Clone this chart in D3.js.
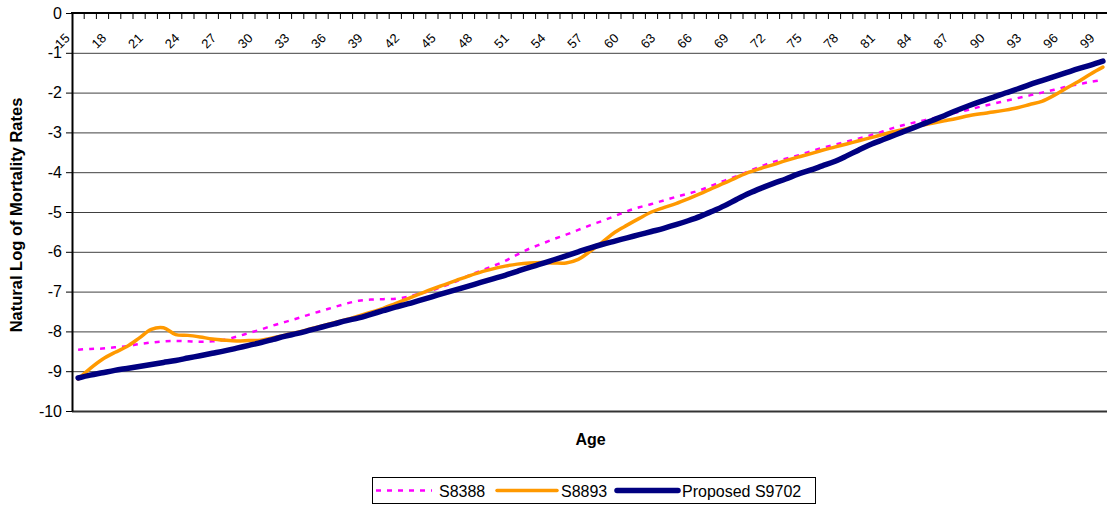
<!DOCTYPE html>
<html>
<head>
<meta charset="utf-8">
<script src="https://cdn.jsdelivr.net/npm/d3@7"></script>
<style>
  body { margin: 0; background: #fff; }
  svg { display: block; font-family: Arial, "Liberation Sans", sans-serif; }
</style>
</head>
<body>
<div class="chart"></div>
<script>
// ages 15..99 (category axis)
var ages = d3.range(15, 100);
var ageLabels = d3.range(15, 100, 3);
var yTicks = d3.range(0, -11, -1);

var s8388 = [-8.46, -8.44, -8.43, -8.40, -8.37, -8.32, -8.28, -8.25, -8.24, -8.25,
  -8.26, -8.25, -8.21, -8.13, -8.04, -7.95, -7.85, -7.76, -7.67, -7.57,
  -7.48, -7.39, -7.30, -7.23, -7.20, -7.19, -7.18, -7.13, -7.05, -6.97,
  -6.86, -6.74, -6.60, -6.48, -6.36, -6.23, -6.07, -5.92, -5.80, -5.68,
  -5.57, -5.45, -5.33, -5.22, -5.10, -4.98, -4.88, -4.80, -4.71, -4.62,
  -4.54, -4.45, -4.33, -4.21, -4.10, -3.97, -3.85, -3.74, -3.66, -3.58,
  -3.48, -3.39, -3.31, -3.23, -3.15, -3.07, -2.97, -2.87, -2.79, -2.72,
  -2.65, -2.58, -2.50, -2.43, -2.35, -2.28, -2.21, -2.14, -2.07, -2.00,
  -1.93, -1.85, -1.79, -1.73, -1.68];

var s8893 = [-9.20, -8.93, -8.70, -8.53, -8.38, -8.17, -7.95, -7.91, -8.08, -8.10,
  -8.14, -8.19, -8.22, -8.24, -8.23, -8.22, -8.16, -8.09, -8.02, -7.94,
  -7.86, -7.78, -7.70, -7.61, -7.52, -7.42, -7.30, -7.18, -7.06, -6.94,
  -6.83, -6.72, -6.61, -6.51, -6.43, -6.36, -6.31, -6.28, -6.27, -6.28,
  -6.28, -6.19, -5.98, -5.75, -5.51, -5.33, -5.16, -5.00, -4.89, -4.79,
  -4.67, -4.54, -4.40, -4.27, -4.13, -4.00, -3.90, -3.81, -3.71, -3.62,
  -3.54, -3.45, -3.37, -3.29, -3.21, -3.13, -3.05, -2.97, -2.90, -2.83,
  -2.77, -2.71, -2.65, -2.58, -2.53, -2.49, -2.44, -2.38, -2.30, -2.22,
  -2.07, -1.89, -1.72, -1.53, -1.36];

var s9702 = [-9.17, -9.10, -9.04, -8.98, -8.93, -8.88, -8.83, -8.78, -8.73, -8.67,
  -8.61, -8.55, -8.49, -8.42, -8.35, -8.28, -8.20, -8.12, -8.05, -7.97,
  -7.89, -7.81, -7.73, -7.66, -7.57, -7.48, -7.39, -7.31, -7.22, -7.13,
  -7.04, -6.95, -6.86, -6.77, -6.68, -6.59, -6.49, -6.39, -6.30, -6.20,
  -6.10, -6.00, -5.90, -5.81, -5.73, -5.65, -5.57, -5.49, -5.41, -5.32,
  -5.22, -5.11, -4.98, -4.84, -4.68, -4.53, -4.40, -4.28, -4.17, -4.05,
  -3.95, -3.84, -3.73, -3.59, -3.44, -3.30, -3.18, -3.06, -2.94, -2.82,
  -2.70, -2.58, -2.45, -2.33, -2.22, -2.12, -2.01, -1.91, -1.80, -1.70,
  -1.60, -1.50, -1.40, -1.31, -1.21];

var seriesNames = ["S8388", "S8893", "Proposed S9702"];

var svgWidth = 1107;
var svgHeight = 507;
var margin = {top: 13, left: 72};
var plotRight = 1109;
var plotBottom = 411;

var svg = d3.select(".chart")
  .append("svg")
  .attr("width", svgWidth)
  .attr("height", svgHeight);

var x = d3.scaleBand().domain(ages).range([margin.left, plotRight]).padding(0);
var y = d3.scaleLinear().domain([0, -10]).range([margin.top, plotBottom]);
var half = x.bandwidth() / 2;

// gridlines
svg.append("g")
  .attr("transform", `translate(${margin.left},0)`)
  .call(d3.axisLeft(y).tickValues(d3.range(-1, -11, -1)).tickSize(-(plotRight - margin.left)).tickFormat(""))
  .call(function(g){
    g.select(".domain").remove();
    g.selectAll("line").attr("stroke", "#404040").attr("stroke-width", 1);
    g.selectAll(".tick").filter(function(d){ return d === -10; }).select("line")
      .attr("stroke", "#333").attr("stroke-width", 2);
  });

// y axis
svg.append("g")
  .attr("transform", `translate(${margin.left},0)`)
  .call(d3.axisLeft(y).tickValues(yTicks).tickSize(6).tickSizeOuter(0).tickPadding(4)
    .tickFormat(function(d){ return String(d); }))
  .call(function(g){
    g.select(".domain").attr("stroke", "#000").attr("stroke-width", 2);
    g.selectAll("line").attr("stroke", "#000");
    g.selectAll("text").attr("font-size", 16).attr("fill", "#000")
      .attr("font-family", "Arial, 'Liberation Sans', sans-serif");
  });

// x axis along the top (value 0)
var xAxis = svg.append("g")
  .attr("transform", `translate(0,${margin.top})`)
  .call(d3.axisBottom(x).tickValues(ageLabels).tickSize(0).tickSizeOuter(0))
  .call(function(g){
    g.select(".domain").remove();
    g.selectAll("text")
      .attr("font-size", 13)
      .attr("fill", "#000")
      .attr("font-family", "Arial, 'Liberation Sans', sans-serif")
      .attr("text-anchor", "end")
      .attr("x", 0).attr("y", 0).attr("dy", 0)
      .attr("transform", "translate(-7.5,26) rotate(-45)");
  });

// tick marks at category boundaries
xAxis.selectAll(".bound")
  .data(ages.slice(1))
  .enter().append("line")
    .attr("class", "bound")
    .attr("x1", function(d){ return x(d); })
    .attr("x2", function(d){ return x(d); })
    .attr("y1", 0)
    .attr("y2", 6)
    .attr("stroke", "#000");

svg.append("line")
  .attr("x1", margin.left - 1).attr("x2", plotRight)
  .attr("y1", y(0)).attr("y2", y(0))
  .attr("stroke", "#000").attr("stroke-width", 2);

// lines
var line = d3.line()
  .x(function(d, i){ return x(ages[i]) + half; })
  .y(function(d){ return y(d); })
  .curve(d3.curveCatmullRom.alpha(0.5));

var styles = [
  {data: s8388, color: "#ff00ff", width: 2.5, dash: "5,6"},
  {data: s8893, color: "#ff9900", width: 3.5, dash: null},
  {data: s9702, color: "#000080", width: 5.5, dash: null}
];

styles.forEach(function(s){
  svg.append("path")
    .datum(s.data)
    .attr("d", line)
    .attr("fill", "none")
    .attr("stroke", s.color)
    .attr("stroke-width", s.width)
    .attr("stroke-linecap", s.dash ? "butt" : "round")
    .attr("stroke-linejoin", "round")
    .attr("stroke-dasharray", s.dash);
});

// axis titles
svg.append("text")
  .attr("transform", "translate(22,215) rotate(-90)")
  .attr("text-anchor", "middle")
  .attr("font-size", 16.5)
  .attr("font-weight", "bold")
  .text("Natural Log of Mortality Rates");

svg.append("text")
  .attr("x", (margin.left + plotRight) / 2)
  .attr("y", 445)
  .attr("text-anchor", "middle")
  .attr("font-size", 16)
  .attr("font-weight", "bold")
  .text("Age");

// legend
var legend = svg.append("g");
legend.append("rect")
  .attr("x", 372.5).attr("y", 477.5)
  .attr("width", 443).attr("height", 26)
  .attr("fill", "#fff").attr("stroke", "#000");

var legendPos = [
  {x1: 376, x2: 432, tx: 439},
  {x1: 497, x2: 557, tx: 561},
  {x1: 617, x2: 678, tx: 682}
];

styles.forEach(function(s, i){
  var p = legendPos[i];
  legend.append("line")
    .attr("x1", p.x1).attr("x2", p.x2)
    .attr("y1", 490.5).attr("y2", 490.5)
    .attr("stroke", s.color)
    .attr("stroke-width", s.width)
    .attr("stroke-linecap", s.dash ? "butt" : "round")
    .attr("stroke-dasharray", s.dash);
  legend.append("text")
    .attr("x", p.tx).attr("y", 496.5)
    .attr("font-size", 16)
    .text(seriesNames[i]);
});
</script>
</body>
</html>
